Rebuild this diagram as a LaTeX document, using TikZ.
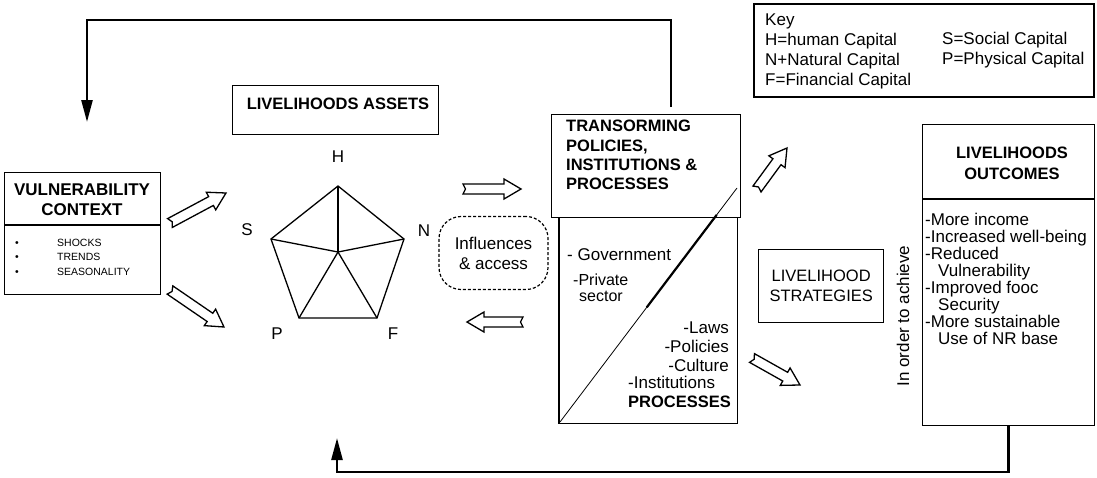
\documentclass[tikz,border=0pt]{standalone}
\usepackage{fontspec}
\setmainfont{Liberation Sans}
\usetikzlibrary{calc,arrows.meta}
\tikzset{
  box/.style={draw, line width=1.4pt, inner sep=0pt, anchor=north west},
  bodyf/.style={font=\fontsize{17}{20}\selectfont, inner sep=0pt},
  headf/.style={font=\bfseries\fontsize{16.5}{19.5}\selectfont, inner sep=0pt},
  hollowarr/.style={draw, line width=1.3pt, line join=miter, fill=white},
  fb/.style={line width=2.5pt},
  fbtip/.style={-{Triangle[length=22pt,width=11pt]}},
  frame/.style={line width=1.2pt},
  pent/.style={line width=1.3pt, line join=miter},
}
\newcommand\hollowarrow[2]{%
  \draw[hollowarr] let \p1=(#1), \p2=(#2),
    \n1={atan2(\y2-\y1,\x2-\x1)}, \n2={veclen(\x2-\x1,\y2-\y1)} in
    [shift={(\p1)}, rotate=\n1]
    (0,-5) -- (\n2-17,-5) -- (\n2-17,-10) -- (\n2,0) -- (\n2-17,10)
    -- (\n2-17,5) -- (0,5) -- (2.5,0) -- cycle;}
\begin{document}
\begin{tikzpicture}[x=1pt,y=-1pt]
\useasboundingbox (0,0) rectangle (1097,477);

% ---------------- Vulnerability context
\node[box, minimum width=156, minimum height=122] (vul) at (4,172) {};
\draw[frame] ($(vul.north west)+(0,53)$) -- ($(vul.north east)+(0,53)$);
\node[inner sep=0pt, font=\bfseries\fontsize{17}{20}\selectfont, align=center] (vultitle) at (82,200) {VULNERABILITY\\CONTEXT};
\node[anchor=west, inner sep=0pt, font=\fontsize{10.5}{14.5}\selectfont, align=left] (vulitems) at (15,257)
  {\makebox[42pt][l]{\textbullet}SHOCKS\\\makebox[42pt][l]{\textbullet}TRENDS\\\makebox[42pt][l]{\textbullet}SEASONALITY};

% ---------------- Livelihood assets
\node[box, minimum width=206, minimum height=49] (assets) at (232,85) {};
\node[headf] (assetstitle) at (338,104) {LIVELIHOODS ASSETS};

\coordinate (pH) at (338,186);
\coordinate (pN) at (404,239);
\coordinate (pF) at (377,318);
\coordinate (pP) at (299,318);
\coordinate (pS) at (271,239);
\coordinate (pC) at (338,252);
\draw[pent] (pH) -- (pN) -- (pF) -- (pP) -- (pS) -- cycle;
\foreach \v in {pH,pN,pF,pP,pS} \draw[pent] (pC) -- (\v);
\node[bodyf] (lH) at (338,157) {H};
\node[bodyf] (lS) at (247,230) {S};
\node[bodyf] (lN) at (424,231) {N};
\node[bodyf] (lP) at (277,334) {P};
\node[bodyf] (lF) at (393,334) {F};

% ---------------- Influences & access
\node[draw, dash pattern=on 3pt off 2pt, line width=1.2pt, rounded corners=22pt,
      minimum width=109, minimum height=73, bodyf, align=center] (infl) at (493.5,253) {Influences\\\& access};

% ---------------- Transforming structures & processes
\node[box, minimum width=178, minimum height=206] (proc) at (559,217) {};
\draw[line width=2.2pt] (proc.north west) -- (proc.south west);
\node[box, minimum width=189, minimum height=103] (trans) at (551,114) {};
\coordinate (d1) at (560,422);
\coordinate (d2) at (737,188);
\draw[line width=0.8pt] (d1) -- (d2);
\draw[line width=2.2pt] ($(d1)!0.49!(d2)$) -- ($(d1)!0.885!(d2)$);
\node[anchor=west, inner sep=0pt, font=\bfseries\fontsize{16.5}{19.3}\selectfont, align=left] (transtitle) at (566,155)
  {TRANSORMING\\POLICIES,\\INSTITUTIONS \&\\PROCESSES};
\node[bodyf, anchor=west] (gov) at (567,255) {- Government};
\node[anchor=west, inner sep=0pt, font=\fontsize{16}{16}\selectfont, align=left] (priv) at (573,288) {-Private\\\hspace*{6pt}sector};
\node[anchor=east, inner sep=0pt, font=\fontsize{17}{19}\selectfont, align=right] (laws) at (729,347) {-Laws\\-Policies\\-Culture};
\node[bodyf, anchor=west] (inst) at (628,382) {-Institutions};
\node[headf, anchor=west] (proctitle) at (628,402) {PROCESSES};

% ---------------- Key
\node[box, line width=2pt, minimum width=340, minimum height=93] (key) at (753,3) {};
\node[anchor=west, inner sep=0pt, font=\fontsize{17}{20}\selectfont, align=left] (key1) at (765,51)
  {Key\\H=human Capital\\N+Natural Capital\\F=Financial Capital};
\node[anchor=west, inner sep=0pt, font=\fontsize{17}{20}\selectfont, align=left] (key2) at (942,50)
  {S=Social Capital\\P=Physical Capital};

% ---------------- Livelihood strategies
\node[box, minimum width=125, minimum height=73, font=\fontsize{16.5}{20}\selectfont, align=center] (strat) at (758,249)
  {LIVELIHOOD\\STRATEGIES};

% ---------------- Livelihood outcomes
\node[box, minimum width=172, minimum height=301] (out) at (922,124) {};
\draw[frame] ($(out.north west)+(0,75)$) -- ($(out.north east)+(0,75)$);
\node[inner sep=0pt, font=\bfseries\fontsize{16.5}{21}\selectfont, align=center] (outtitle) at (1012,163) {LIVELIHOODS\\OUTCOMES};
\node[anchor=west, inner sep=0pt, font=\fontsize{17}{17.1}\selectfont, align=left] (outitems) at (925,279)
  {-More income\\-Increased well-being\\-Reduced\\\hspace*{13pt}Vulnerability\\-Improved fooc\\\hspace*{13pt}Security\\-More sustainable\\\hspace*{13pt}Use of NR base};
\node[bodyf, rotate=90] (achieve) at (903,316) {In order to achieve};

% ---------------- Hollow arrows
\coordinate (a1s) at (170,223); \coordinate (a1e) at (226,193);
\coordinate (a2s) at (170,290); \coordinate (a2e) at (224,327);
\coordinate (a3s) at (463,189); \coordinate (a3e) at (521,189);
\coordinate (a4s) at (523,322); \coordinate (a4e) at (467,322);
\coordinate (a5s) at (757,189); \coordinate (a5e) at (787,148);
\coordinate (a6s) at (752,358); \coordinate (a6e) at (800,385);
\hollowarrow{a1s}{a1e}
\hollowarrow{a2s}{a2e}
\hollowarrow{a3s}{a3e}
\hollowarrow{a4s}{a4e}
\hollowarrow{a5s}{a5e}
\hollowarrow{a6s}{a6e}

% ---------------- Feedback loops
\coordinate (ftop) at (671,107);
\coordinate (topy) at (0,20);
\coordinate (fleft) at (87,122);
\draw[fb, fbtip] (ftop) -- (ftop |- topy) -| (fleft);
\coordinate (boty) at (0,472);
\coordinate (fbot) at (337,438);
\draw[fb, fbtip] (out.south) -- (out.south |- boty) -| (fbot);
\end{tikzpicture}
\end{document}
